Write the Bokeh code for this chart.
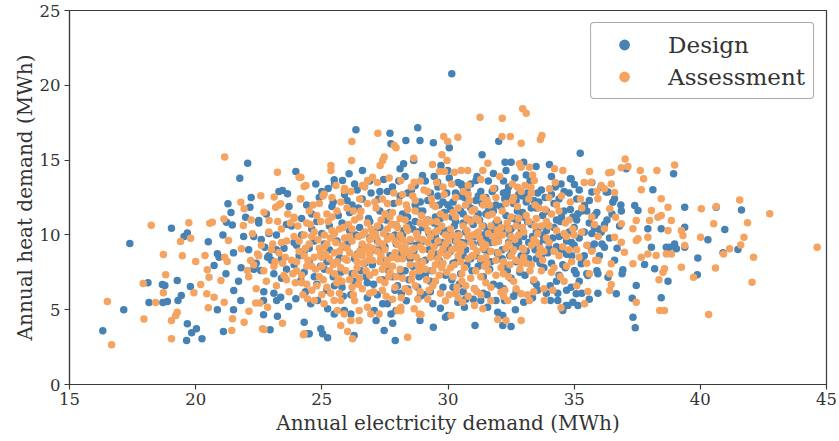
from bokeh.plotting import figure
from bokeh.models import ColumnDataSource, Range1d, FixedTicker, Legend, LegendItem
from bokeh.embed import file_html
from bokeh.resources import INLINE

# ---- data (Annual electricity demand MWh, Annual heat demand MWh) ----
design_outer = [
    (16.32, 3.59), (17.15, 4.99), (17.39, 9.42), (19.04, 10.45), (19.54, 9.89), (19.67, 10.12),
    (18.11, 6.80), (18.15, 5.48), (18.70, 5.48), (18.88, 5.55), (18.68, 6.68), (18.78, 6.62),
    (19.27, 6.95), (19.30, 5.61), (19.43, 5.95), (19.67, 4.06), (19.84, 3.46), (20.03, 3.72),
    (19.64, 2.94), (20.25, 3.05), (19.79, 6.55), (20.50, 9.54), (20.86, 8.74), (20.73, 7.95),
    (20.93, 8.51), (21.28, 12.08), (21.75, 13.79), (22.06, 14.79), (21.08, 10.00), (21.45, 10.67),
    (21.22, 10.85), (20.86, 4.99), (21.50, 4.99), (21.10, 3.54), (21.51, 6.28), (21.79, 5.61),
    (21.98, 11.18), (22.50, 10.96), (22.15, 11.85), (22.69, 4.66), (23.24, 4.57), (22.95, 3.66),
    (22.69, 5.61), (23.97, 14.24), (24.76, 13.41), (23.44, 12.97), (23.64, 12.75), (24.30, 4.16),
    (24.50, 3.39), (23.68, 5.21), (23.37, 5.84), (23.21, 5.61), (22.74, 9.18), (22.85, 8.51),
    (22.35, 7.95), (22.58, 7.62), (23.97, 5.73), (24.17, 6.95), (23.10, 7.40), (23.50, 7.17),
    (30.15, 20.77), (26.35, 17.03), (27.70, 16.80), (27.74, 16.09), (28.80, 17.16), (28.89, 16.31),
    (28.33, 16.31), (29.42, 16.16), (30.05, 15.82), (31.35, 15.35), (32.01, 16.26), (32.26, 14.86),
    (32.50, 14.86), (33.00, 14.86), (33.49, 14.57), (34.02, 14.71), (35.24, 15.46), (34.85, 13.75),
    (35.01, 13.37), (26.61, 14.30), (26.08, 14.08), (25.49, 13.68), (25.82, 13.64), (28.10, 14.42),
    (28.24, 14.75), (28.64, 14.97), (29.72, 14.64), (29.99, 14.30), (28.99, 13.97), (29.59, 13.52),
    (30.52, 13.41), (31.11, 13.64), (32.37, 12.53),
    (38.94, 14.08), (38.12, 13.01), (39.38, 11.85), (40.63, 11.85), (41.63, 11.67), (40.97, 10.36),
    (40.30, 9.67), (41.49, 9.02), (40.90, 8.80), (39.90, 8.45), (39.88, 7.33), (39.38, 10.51),
    (39.38, 9.18), (38.98, 9.40), (38.78, 9.18), (38.65, 9.18), (39.05, 9.07), (38.45, 10.41),
    (37.92, 10.41), (38.06, 9.18), (38.19, 7.73), (38.72, 6.91), (38.45, 5.80), (37.46, 6.62),
    (37.30, 5.77), (37.33, 4.50), (37.42, 3.79), (37.79, 8.02), (36.93, 7.67), (36.67, 6.06),
    (35.94, 6.10), (35.15, 5.28), (34.95, 5.50), (34.68, 5.28), (34.55, 4.95), (37.40, 11.97),
    (37.53, 11.63), (36.87, 11.59), (36.53, 12.19), (36.34, 12.86), (35.41, 11.97), (35.15, 11.41),
    (35.81, 11.30), (35.94, 10.41), (36.07, 10.18), (36.20, 9.18), (35.54, 9.29), (35.28, 8.07),
    (35.01, 7.62), (35.94, 7.40), (36.34, 7.17), (35.54, 7.29), (34.88, 13.75), (34.48, 13.41),
    (35.70, 12.86), (36.27, 12.86), (36.07, 13.19), (36.60, 12.41), (37.06, 14.42),
    (24.43, 3.39), (24.96, 3.72), (25.03, 3.39), (25.23, 3.12), (26.28, 3.28), (27.47, 3.61),
    (27.91, 2.94), (27.81, 4.10), (27.15, 4.28), (28.89, 4.28), (29.42, 3.83), (29.90, 4.50),
    (31.07, 3.94), (32.17, 3.94), (32.50, 3.88), (32.17, 4.61), (32.67, 4.99), (31.97, 4.83),
    (31.90, 5.61), (31.57, 5.17), (32.24, 5.61), (31.30, 5.61), (34.35, 5.61), (34.06, 5.61),
    (34.75, 5.28), (35.08, 6.06), (34.88, 6.50), (35.08, 7.40), (30.65, 5.17), (29.99, 4.61),
    (30.39, 5.50), (27.08, 4.95), (27.74, 4.72), (27.94, 4.95), (27.41, 5.39), (25.89, 4.95),
    (26.15, 4.72), (25.49, 4.72), (24.56, 5.39), (24.83, 5.61), (25.23, 5.06),
]

design_core = [
    (21.2, 7.4), (21.5, 8.8), (21.7, 6.9), (21.9, 9.9), (21.4, 11.5), (21.8, 7.8),
    (22.1, 9.0), (22.3, 7.7), (22.5, 10.8), (22.7, 6.2), (22.9, 8.6), (22.2, 12.5), (22.6, 9.7), (22.8, 11.4),
    (23.0, 8.3), (23.2, 10.0), (23.4, 7.1), (23.5, 9.1), (23.7, 11.9), (23.9, 8.0), (23.1, 6.1),
    (23.3, 12.9), (23.6, 7.7), (23.8, 10.6),
    (24.0, 9.3), (24.2, 11.1), (24.3, 7.5), (24.5, 8.2), (24.6, 10.4), (24.8, 6.7), (24.9, 12.5),
    (24.1, 8.6), (24.4, 12.0), (24.7, 9.6), (24.95, 7.9), (24.35, 6.2),
    (25.0, 10.1), (25.1, 7.7), (25.3, 9.0), (25.4, 11.9), (25.5, 6.6), (25.7, 8.5), (25.8, 10.8),
    (25.9, 12.7), (25.2, 8.2), (25.6, 9.6), (25.45, 7.2), (25.85, 5.9), (25.25, 13.1), (25.65, 11.3),
    (26.0, 9.4), (26.1, 11.5), (26.2, 7.4), (26.4, 8.7), (26.5, 10.5), (26.6, 12.4), (26.8, 6.8),
    (26.9, 9.8), (26.3, 13.4), (26.7, 8.1), (26.15, 6.0), (26.55, 7.6), (26.85, 11.1), (26.35, 10.0), (26.95, 12.8),
    (27.0, 8.0), (27.1, 10.2), (27.3, 11.6), (27.4, 7.0), (27.5, 9.2), (27.6, 12.9), (27.7, 8.6),
    (27.8, 10.7), (27.9, 6.3), (27.2, 9.6), (27.45, 13.7), (27.65, 7.6), (27.85, 12.1), (27.05, 6.7),
    (27.35, 8.4), (27.95, 9.4), (27.55, 11.0),
    (28.0, 9.9), (28.1, 7.3), (28.2, 11.4), (28.3, 8.6), (28.4, 12.8), (28.5, 9.6), (28.6, 7.9),
    (28.7, 10.9), (28.8, 6.5), (28.9, 12.2), (28.05, 13.6), (28.25, 10.3), (28.45, 7.0), (28.65, 8.9),
    (28.85, 11.6), (28.15, 6.1), (28.55, 13.0), (28.75, 9.3), (28.95, 8.2), (28.35, 5.6), (28.6, 10.4),
    (29.0, 10.5), (29.1, 8.3), (29.2, 12.3), (29.3, 6.9), (29.4, 9.7), (29.5, 11.2), (29.6, 13.2),
    (29.7, 8.0), (29.8, 10.2), (29.9, 7.3), (29.05, 6.0), (29.25, 9.0), (29.45, 13.9), (29.65, 12.0),
    (29.85, 11.5), (29.15, 10.9), (29.35, 7.6), (29.55, 8.7), (29.75, 9.5), (29.95, 12.8), (29.4, 5.4), (29.8, 6.5),
    (30.0, 9.3), (30.1, 11.7), (30.2, 8.1), (30.3, 12.8), (30.4, 10.1), (30.5, 7.4), (30.6, 10.8),
    (30.7, 9.0), (30.8, 12.2), (30.9, 8.4), (30.05, 13.8), (30.25, 10.6), (30.45, 6.7), (30.65, 12.5),
    (30.85, 11.0), (30.15, 7.0), (30.35, 9.8), (30.55, 13.3), (30.75, 8.0), (30.95, 9.9), (30.3, 6.1),
    (30.7, 5.7), (30.5, 11.6),
    (31.0, 10.7), (31.1, 8.6), (31.2, 12.6), (31.3, 9.5), (31.4, 7.2), (31.5, 11.4), (31.6, 13.6),
    (31.7, 8.2), (31.8, 10.3), (31.9, 12.0), (31.05, 6.4), (31.25, 11.0), (31.45, 9.0), (31.65, 7.7),
    (31.85, 13.1), (31.15, 13.9), (31.35, 10.0), (31.55, 6.0), (31.75, 11.8), (31.95, 8.8), (31.5, 9.8), (31.2, 7.9),
    (32.0, 9.6), (32.1, 11.9), (32.2, 8.0), (32.3, 10.4), (32.4, 13.2), (32.5, 7.1), (32.6, 11.1),
    (32.7, 9.2), (32.8, 12.7), (32.9, 8.6), (32.05, 6.6), (32.25, 12.4), (32.45, 10.0), (32.65, 13.8),
    (32.85, 7.5), (32.15, 9.0), (32.35, 7.6), (32.55, 8.9), (32.75, 10.8), (32.95, 11.5), (32.6, 5.9), (32.3, 14.3),
    (33.0, 9.9), (33.1, 12.2), (33.2, 8.4), (33.3, 10.7), (33.4, 6.9), (33.5, 11.8), (33.6, 9.4),
    (33.7, 13.0), (33.8, 7.8), (33.9, 10.3), (33.05, 7.3), (33.25, 13.6), (33.45, 9.0), (33.65, 8.1),
    (33.85, 12.5), (33.15, 10.9), (33.55, 6.3), (33.75, 11.3), (33.95, 8.8), (33.35, 5.8),
    (34.0, 10.6), (34.1, 8.1), (34.2, 12.1), (34.3, 9.2), (34.4, 7.3), (34.5, 11.2), (34.6, 10.0),
    (34.7, 8.7), (34.8, 12.8), (34.9, 9.5), (34.05, 6.6), (34.25, 13.2), (34.45, 10.9), (34.65, 7.8),
    (34.85, 11.7), (34.35, 6.1),
    (35.0, 9.3), (35.1, 11.0), (35.3, 8.2), (35.4, 10.2), (35.6, 12.3), (35.7, 9.0), (35.9, 7.6),
    (35.2, 6.9), (35.5, 11.6), (35.8, 10.5),
    (36.1, 9.4), (36.3, 11.0), (36.6, 8.3), (36.8, 10.6), (36.9, 7.4),
]

design_core2 = [
    (22.4, 8.1), (22.9, 10.1), (22.3, 9.9),
    (23.2, 9.0), (23.6, 10.7), (23.9, 9.5), (23.4, 8.4),
    (24.2, 10.0), (24.5, 9.1), (24.8, 10.9), (24.3, 8.9), (24.7, 7.2),
    (25.1, 9.4), (25.3, 10.6), (25.6, 8.2), (25.9, 9.2), (25.45, 12.2), (25.75, 7.5),
    (26.1, 10.3), (26.3, 8.4), (26.6, 9.2), (26.9, 10.9), (26.45, 11.8), (26.75, 7.2), (26.2, 12.0),
    (27.1, 9.0), (27.3, 10.5), (27.5, 8.1), (27.7, 11.5), (27.9, 10.0), (27.25, 12.4), (27.6, 9.9), (27.8, 7.2),
    (28.0, 8.7), (28.2, 10.0), (28.4, 11.2), (28.6, 9.0), (28.8, 10.2), (28.1, 12.6), (28.3, 7.6),
    (28.5, 8.4), (28.7, 12.0), (28.9, 9.6), (28.45, 10.7), (28.85, 7.2),
    (29.0, 9.6), (29.2, 11.0), (29.4, 8.6), (29.6, 10.4), (29.8, 12.2), (29.1, 7.3), (29.3, 12.8),
    (29.5, 9.9), (29.7, 11.1), (29.9, 8.8), (29.25, 10.1), (29.65, 8.3), (29.45, 10.8), (29.85, 9.3),
    (30.0, 10.3), (30.2, 12.2), (30.4, 9.2), (30.6, 11.4), (30.8, 9.6), (30.1, 8.9), (30.3, 10.9),
    (30.5, 12.6), (30.7, 10.2), (30.9, 11.8), (30.15, 11.2), (30.55, 9.5), (30.95, 7.6), (30.35, 8.2),
    (30.75, 13.0), (30.25, 9.9),
    (31.0, 9.4), (31.2, 11.4), (31.4, 10.6), (31.6, 8.9), (31.8, 11.6), (31.1, 12.3), (31.3, 8.3),
    (31.5, 12.5), (31.7, 9.5), (31.9, 10.8), (31.15, 10.1), (31.55, 10.3), (31.95, 9.9), (31.35, 12.1),
    (31.75, 12.9), (31.45, 8.0),
    (32.0, 10.8), (32.2, 12.8), (32.4, 9.5), (32.6, 12.1), (32.8, 9.9), (32.1, 10.2), (32.3, 11.3),
    (32.5, 10.4), (32.7, 8.2), (32.9, 10.2), (32.15, 8.4), (32.55, 9.6), (32.95, 12.6), (32.35, 12.9),
    (32.75, 11.6), (32.45, 8.6),
    (33.0, 11.2), (33.2, 9.5), (33.4, 12.3), (33.6, 10.5), (33.8, 9.7), (33.1, 8.9), (33.3, 11.8),
    (33.5, 10.2), (33.7, 8.6), (33.9, 11.6), (33.15, 12.8), (33.55, 12.8), (33.95, 9.6), (33.35, 9.9),
    (33.75, 10.0),
    (34.0, 9.1), (34.2, 10.5), (34.4, 12.4), (34.6, 11.6), (34.8, 10.2), (34.1, 12.7), (34.3, 11.0),
    (34.5, 9.0), (34.7, 9.6), (34.9, 8.6), (34.15, 9.8), (34.55, 8.0), (34.95, 11.2),
    (35.0, 10.5), (35.2, 9.8), (35.4, 8.6), (35.6, 10.8), (35.8, 9.4), (35.1, 12.4), (35.3, 11.6),
    (35.5, 7.4), (35.7, 10.1), (35.9, 11.5),
    (36.0, 8.6), (36.2, 10.7), (36.4, 9.8), (36.5, 11.4), (36.7, 9.1), (36.85, 12.0),
]

design_core3 = [
    (24.6, 11.4), (25.0, 12.9), (25.5, 13.4), (26.0, 12.3), (26.4, 13.0), (26.9, 13.6), (27.3, 12.9),
    (27.8, 13.2), (28.3, 13.9), (28.7, 13.3), (29.1, 13.6), (29.6, 12.6), (30.0, 12.0), (30.4, 13.5),
    (30.9, 13.4), (31.3, 12.9), (31.8, 14.1), (32.2, 13.6), (32.7, 12.3), (33.1, 14.0), (33.6, 12.2),
    (34.1, 13.9), (34.6, 12.9), (35.2, 13.0), (35.7, 13.5),
    (25.2, 6.3), (25.8, 6.5), (26.3, 6.9), (26.8, 5.8), (27.2, 6.0), (27.6, 5.4), (28.0, 6.6),
    (28.4, 6.4), (28.9, 5.9), (29.3, 6.2), (29.7, 5.1), (30.2, 6.5), (30.6, 6.2), (31.0, 5.7),
    (31.4, 6.1), (31.8, 6.7), (32.2, 6.4), (32.7, 6.2), (33.0, 5.5), (33.5, 6.7), (33.9, 6.1),
    (34.3, 6.9), (34.7, 6.3), (35.3, 6.1), (35.6, 5.7),
    (27.3, 9.0), (28.2, 9.1), (29.5, 9.4), (30.3, 9.6), (31.1, 9.9), (32.0, 8.4), (32.8, 9.5),
    (33.5, 8.4), (34.4, 9.9), (30.6, 8.6), (29.0, 11.6), (31.6, 11.6),
]

assessment_outer = [
    (16.50, 5.55), (16.67, 2.65), (17.95, 4.37), (17.92, 6.75), (18.72, 8.69), (18.81, 7.33),
    (18.72, 6.13), (18.41, 5.48), (18.24, 10.65), (19.04, 3.05), (19.04, 4.28), (19.21, 4.61),
    (19.27, 4.83), (19.40, 9.56), (19.80, 9.78), (19.73, 10.81), (19.47, 8.60), (20.00, 8.22),
    (20.37, 8.62), (19.93, 6.13), (20.20, 6.68), (20.46, 7.67), (20.53, 7.17), (20.44, 6.06),
    (20.50, 5.13), (20.56, 10.78), (20.66, 10.85), (21.15, 15.20), (21.12, 11.07), (21.30, 9.63),
    (21.15, 8.51), (21.25, 8.22), (21.46, 4.39), (21.43, 3.61), (21.00, 6.95), (21.13, 5.50),
    (20.73, 5.84), (21.79, 12.19), (21.92, 11.74), (21.89, 10.63), (21.81, 9.07), (21.92, 4.16),
    (22.11, 4.90), (22.58, 12.61), (23.24, 14.19), (22.65, 3.72), (22.71, 3.68), (23.44, 4.10),
    (24.27, 3.32), (22.05, 7.62), (22.18, 8.29), (22.45, 8.73), (22.38, 5.44), (22.55, 5.44),
    (22.85, 5.17), (23.11, 12.53), (23.37, 12.08), (23.17, 11.85), (22.71, 11.52), (22.91, 10.96),
    (22.25, 10.07), (23.90, 11.18), (24.10, 13.86), (24.37, 13.30), (24.17, 12.41),
    (31.27, 17.87), (32.15, 17.80), (32.96, 18.43), (33.10, 18.14), (33.72, 16.64), (33.66, 16.38),
    (32.47, 16.58), (32.90, 16.13), (32.14, 16.58), (30.39, 16.53), (29.83, 16.58), (29.99, 16.24),
    (27.22, 16.80), (26.19, 16.24), (26.18, 14.97), (25.36, 14.64), (25.36, 14.30), (27.87, 15.98),
    (27.94, 15.82), (27.47, 15.20), (27.41, 14.97), (27.31, 14.64), (28.64, 15.13), (29.76, 15.35),
    (29.96, 14.97), (29.39, 14.71), (29.66, 14.24), (29.86, 14.24), (31.58, 14.79), (31.38, 14.30),
    (30.52, 14.30), (30.78, 14.30), (30.25, 14.19), (32.90, 14.53), (33.23, 14.53), (32.83, 14.75),
    (34.22, 14.42), (34.55, 14.30), (33.42, 13.64), (33.29, 13.19), (32.76, 13.19), (34.02, 13.08),
    (24.30, 13.24), (24.17, 13.86), (25.09, 12.74), (25.56, 13.30), (25.89, 12.97), (26.81, 13.64),
    (27.01, 13.86), (26.61, 13.30), (27.67, 13.81), (28.13, 13.64), (28.66, 13.52),
    (44.63, 9.18), (42.75, 11.41), (41.56, 12.34), (41.87, 10.81), (41.73, 9.85), (41.60, 9.33),
    (41.16, 9.07), (40.92, 8.73), (42.11, 8.51), (40.60, 7.78), (42.05, 6.84), (40.33, 4.68),
    (39.73, 7.17), (40.63, 11.90), (40.04, 11.74), (40.53, 10.74), (40.01, 9.85), (38.98, 14.68),
    (38.28, 14.30), (37.62, 14.30), (37.75, 13.75), (37.66, 13.01), (37.02, 15.08), (36.87, 14.49),
    (37.13, 14.57), (36.47, 14.19), (36.37, 14.15), (35.61, 14.24), (35.67, 13.52), (36.07, 13.30),
    (36.20, 13.08), (35.94, 12.41), (36.47, 13.41), (36.60, 12.84), (36.41, 11.74), (36.64, 11.18),
    (38.45, 12.41), (38.06, 11.63), (38.72, 11.85), (38.85, 10.96), (38.45, 11.30), (38.32, 11.18),
    (37.99, 10.96), (38.72, 10.29), (39.25, 10.29), (39.31, 9.96), (37.92, 9.85), (37.53, 9.74),
    (39.38, 9.29), (38.65, 8.73), (38.25, 8.62), (37.92, 8.73), (37.66, 8.51), (37.33, 8.07),
    (38.85, 8.73), (39.25, 7.84), (38.58, 7.73), (38.52, 7.51), (38.36, 7.00), (38.39, 4.95),
    (38.58, 4.95), (37.46, 5.50), (36.41, 6.28), (35.54, 6.22), (35.41, 5.39), (36.47, 6.68),
    (36.41, 7.40), (36.47, 8.07), (35.94, 8.29), (36.99, 8.84), (36.87, 9.51), (36.60, 9.85),
    (36.20, 10.41), (36.87, 10.74), (37.33, 10.41), (37.46, 10.96), (37.46, 9.63),
    (24.30, 3.39), (25.75, 3.94), (26.02, 3.54), (26.22, 3.05), (26.48, 4.28), (26.15, 4.28),
    (28.40, 3.16), (28.93, 4.68), (28.00, 4.95), (28.13, 5.17), (26.94, 4.72), (27.27, 4.72),
    (30.12, 4.61), (31.97, 4.35), (32.90, 4.28), (32.30, 4.28), (34.48, 5.13), (33.82, 5.61),
    (33.23, 5.61), (32.37, 5.61), (31.38, 5.06), (31.05, 5.28), (30.58, 5.50), (31.05, 6.40),
    (32.10, 6.17), (32.90, 6.06), (28.66, 5.06), (28.86, 4.72), (28.13, 4.95), (26.81, 5.17),
    (26.48, 4.95), (25.89, 4.72), (25.62, 4.95), (25.09, 5.39), (24.43, 5.73), (24.70, 5.61),
    (25.49, 5.61), (25.75, 5.61),
]

assessment_core = [
    (22.1, 7.2), (22.3, 8.0), (22.4, 6.4), (22.6, 9.3), (22.7, 7.6), (22.9, 10.2), (22.2, 11.0),
    (22.8, 6.9), (22.5, 8.6), (23.0, 9.0),
    (23.1, 7.9), (23.2, 6.6), (23.3, 8.8), (23.4, 10.4), (23.5, 7.3), (23.6, 9.6), (23.7, 6.2),
    (23.8, 8.3), (23.9, 11.1), (23.3, 12.0), (23.6, 7.0), (23.9, 9.9), (23.45, 8.1), (23.75, 10.8),
    (24.0, 7.6), (24.1, 8.9), (24.2, 6.8), (24.3, 10.0), (24.4, 7.9), (24.5, 9.4), (24.6, 6.3),
    (24.7, 8.5), (24.8, 11.3), (24.9, 7.2), (24.15, 12.4), (24.35, 9.1), (24.55, 10.7), (24.75, 7.7),
    (24.95, 8.8), (24.25, 6.0), (24.65, 12.0), (24.85, 9.7), (24.05, 10.6), (24.45, 8.3),
    (25.0, 7.9), (25.1, 9.2), (25.2, 6.5), (25.3, 8.4), (25.4, 10.3), (25.5, 7.4), (25.6, 11.6),
    (25.7, 8.9), (25.8, 6.9), (25.9, 9.8), (25.05, 12.6), (25.25, 10.9), (25.45, 8.0), (25.65, 7.1),
    (25.85, 10.5), (25.15, 8.7), (25.35, 6.1), (25.55, 9.5), (25.75, 12.2), (25.95, 7.6), (25.2, 11.4),
    (25.6, 8.2), (25.9, 13.1),
    (26.0, 8.3), (26.1, 7.0), (26.2, 9.6), (26.3, 11.0), (26.4, 7.8), (26.5, 8.9), (26.6, 6.4),
    (26.7, 10.2), (26.8, 12.1), (26.9, 7.3), (26.05, 10.7), (26.25, 6.0), (26.45, 9.9), (26.65, 8.1),
    (26.85, 9.2), (26.15, 12.9), (26.35, 8.6), (26.55, 11.6), (26.75, 7.6), (26.95, 10.4), (26.3, 5.6),
    (26.7, 13.2), (26.5, 7.1), (26.9, 8.7),
    (27.0, 9.1), (27.1, 7.5), (27.2, 10.6), (27.3, 8.2), (27.4, 12.4), (27.5, 6.8), (27.6, 9.7),
    (27.7, 11.2), (27.8, 7.9), (27.9, 8.8), (27.05, 6.2), (27.25, 9.5), (27.45, 10.1), (27.65, 7.2),
    (27.85, 12.8), (27.15, 11.8), (27.35, 8.6), (27.55, 5.9), (27.75, 9.9), (27.95, 10.7), (27.2, 13.5),
    (27.6, 8.3), (27.9, 6.5), (27.4, 7.7), (27.8, 11.5),
    (28.0, 8.4), (28.1, 10.0), (28.2, 7.1), (28.3, 9.3), (28.4, 11.7), (28.5, 8.0), (28.6, 12.6),
    (28.7, 6.6), (28.8, 9.8), (28.9, 10.8), (28.05, 12.2), (28.25, 8.8), (28.45, 6.2), (28.65, 9.1),
    (28.85, 7.6), (28.15, 5.8), (28.35, 10.5), (28.55, 13.2), (28.75, 8.5), (28.95, 11.3), (28.2, 9.7),
    (28.6, 7.4), (28.9, 13.6), (28.4, 8.9), (28.8, 5.7), (28.1, 11.1),
    (29.0, 9.0), (29.1, 7.7), (29.2, 10.3), (29.3, 8.5), (29.4, 12.0), (29.5, 6.9), (29.6, 9.6),
    (29.7, 11.4), (29.8, 8.1), (29.9, 10.0), (29.05, 13.0), (29.25, 6.3), (29.45, 9.2), (29.65, 7.3),
    (29.85, 12.7), (29.15, 11.0), (29.35, 8.8), (29.55, 13.5), (29.75, 10.6), (29.95, 7.5), (29.2, 5.7),
    (29.6, 8.4), (29.9, 9.4), (29.3, 10.9), (29.7, 6.1), (29.5, 11.9),
    (30.0, 8.7), (30.1, 10.4), (30.2, 7.2), (30.3, 9.1), (30.4, 11.8), (30.5, 8.2), (30.6, 12.9),
    (30.7, 6.6), (30.8, 9.9), (30.9, 10.9), (30.05, 6.0), (30.25, 8.0), (30.45, 10.0), (30.65, 7.8),
    (30.85, 12.3), (30.15, 13.4), (30.35, 9.6), (30.55, 6.9), (30.75, 11.1), (30.95, 8.6), (30.2, 11.5),
    (30.6, 9.3), (30.9, 7.1), (30.4, 5.8), (30.8, 13.3),
    (31.0, 9.2), (31.1, 7.6), (31.2, 11.0), (31.3, 8.4), (31.4, 12.5), (31.5, 6.8), (31.6, 10.1),
    (31.7, 8.9), (31.8, 13.1), (31.9, 7.3), (31.05, 11.7), (31.25, 9.8), (31.45, 7.9), (31.65, 12.0),
    (31.85, 9.5), (31.15, 6.2), (31.35, 10.6), (31.55, 8.1), (31.75, 11.4), (31.95, 10.3), (31.3, 13.7),
    (31.7, 6.5), (31.6, 7.6),
    (32.0, 8.8), (32.1, 10.5), (32.2, 7.4), (32.3, 12.1), (32.4, 9.4), (32.5, 11.2), (32.6, 6.9),
    (32.7, 8.3), (32.8, 10.0), (32.9, 12.9), (32.05, 13.9), (32.25, 6.3), (32.45, 8.0), (32.65, 9.7),
    (32.85, 7.7), (32.15, 11.6), (32.35, 10.8), (32.55, 13.4), (32.75, 11.9), (32.95, 9.1), (32.4, 7.2),
    (33.0, 10.2), (33.1, 8.1), (33.2, 12.4), (33.3, 9.3), (33.4, 7.0), (33.5, 11.1), (33.6, 8.7),
    (33.7, 10.6), (33.8, 6.4), (33.9, 9.8), (33.05, 13.3), (33.25, 7.6), (33.45, 12.0), (33.65, 9.1),
    (33.85, 11.7), (33.15, 6.0), (33.55, 10.1), (33.75, 8.3), (33.35, 14.0),
    (34.0, 9.5), (34.1, 11.4), (34.2, 7.8), (34.3, 10.3), (34.4, 8.6), (34.5, 12.6), (34.6, 6.9),
    (34.7, 9.9), (34.8, 11.0), (34.9, 8.2), (34.25, 13.5), (34.45, 7.2), (34.65, 10.8), (34.85, 12.2),
    (34.15, 6.3), (34.55, 9.2),
    (35.0, 10.0), (35.2, 8.5), (35.3, 11.8), (35.5, 9.3), (35.6, 7.4), (35.8, 10.7), (35.9, 12.9),
    (35.1, 6.6), (35.4, 13.5), (35.7, 8.9), (35.95, 9.9),
]

assessment_core2 = [
    (23.05, 9.4), (23.25, 10.9), (23.55, 8.5), (23.85, 7.4), (23.15, 8.2), (23.65, 11.4), (23.95, 6.8),
    (24.1, 9.6), (24.3, 8.6), (24.5, 11.6), (24.7, 10.2), (24.9, 9.1), (24.2, 7.3), (24.6, 7.9),
    (24.8, 6.6), (24.4, 10.8), (24.95, 10.9),
    (25.1, 10.0), (25.3, 7.6), (25.5, 8.8), (25.7, 10.4), (25.9, 8.4), (25.2, 9.4), (25.4, 11.2),
    (25.6, 6.8), (25.8, 9.3), (25.35, 9.8), (25.75, 7.8), (25.05, 7.0),
    (26.0, 9.1), (26.2, 10.4), (26.4, 8.2), (26.6, 9.4), (26.8, 10.8), (26.1, 8.8), (26.3, 7.4),
    (26.5, 11.2), (26.7, 9.0), (26.9, 9.7), (26.45, 6.7), (26.85, 8.3), (26.25, 11.6), (26.6, 10.0),
    (27.0, 8.3), (27.2, 8.9), (27.4, 9.4), (27.6, 10.4), (27.8, 8.5), (27.1, 10.1), (27.3, 7.0),
    (27.5, 11.4), (27.7, 7.5), (27.9, 9.6), (27.15, 9.9), (27.55, 8.0), (27.95, 7.2), (27.35, 11.0), (27.75, 10.7),
    (28.0, 9.4), (28.2, 8.4), (28.4, 10.3), (28.6, 9.0), (28.8, 8.0), (28.1, 7.7), (28.3, 11.0),
    (28.5, 9.7), (28.7, 11.6), (28.9, 9.2), (28.15, 9.1), (28.55, 7.0), (28.95, 7.9), (28.35, 12.0), (28.75, 10.1),
    (29.0, 8.2), (29.2, 9.5), (29.4, 7.6), (29.6, 10.3), (29.8, 9.1), (29.1, 10.7), (29.3, 9.9),
    (29.5, 8.0), (29.7, 8.8), (29.9, 11.2), (29.15, 7.0), (29.55, 10.9), (29.95, 8.6), (29.35, 12.4), (29.75, 7.8),
    (30.0, 9.6), (30.2, 10.0), (30.4, 8.6), (30.6, 10.6), (30.8, 8.4), (30.1, 7.8), (30.3, 11.2),
    (30.5, 9.4), (30.7, 12.0), (30.9, 9.5), (30.15, 9.0), (30.55, 7.4), (30.95, 11.6), (30.35, 6.5), (30.75, 10.3),
    (31.0, 8.6), (31.2, 10.2), (31.4, 9.1), (31.6, 11.3), (31.8, 9.9), (31.1, 11.1), (31.3, 7.2),
    (31.5, 8.5), (31.7, 10.6), (31.9, 8.3), (31.15, 8.9), (31.55, 12.3), (31.95, 11.0), (31.35, 9.5),
    (32.0, 9.6), (32.2, 8.2), (32.4, 10.4), (32.6, 9.0), (32.8, 11.1), (32.1, 7.8), (32.3, 9.1),
    (32.5, 8.6), (32.7, 10.6), (32.9, 8.1), (32.15, 10.0), (32.55, 12.3), (32.95, 10.5),
    (33.0, 9.0), (33.2, 10.9), (33.4, 9.7), (33.6, 11.8), (33.8, 8.9), (33.1, 11.3), (33.3, 8.0),
    (33.5, 9.5), (33.7, 7.6), (33.9, 10.9), (33.45, 10.6),
    (34.0, 10.6), (34.2, 8.9), (34.4, 11.6), (34.6, 10.1), (34.8, 9.0), (34.1, 7.5), (34.3, 12.0),
    (34.7, 7.9), (34.95, 10.4),
    (35.1, 9.0), (35.3, 10.2), (35.5, 8.1), (35.7, 11.2), (35.25, 12.4), (35.85, 8.3),
]

assessment_core3 = [
    (23.4, 9.5), (24.0, 8.2), (24.6, 9.9), (25.0, 8.5), (25.5, 10.1), (26.1, 9.9), (26.6, 8.6),
    (27.0, 10.0), (27.5, 9.0), (28.0, 10.5), (28.5, 8.6), (29.0, 9.7), (29.5, 10.2), (30.0, 9.9),
    (30.5, 8.9), (31.0, 10.0), (31.5, 9.3), (32.0, 10.1), (32.5, 9.9), (33.0, 8.5),
    (24.4, 6.7), (25.0, 6.0), (25.7, 6.1), (26.2, 6.5), (26.9, 6.1), (27.4, 6.3), (27.8, 5.7),
    (28.3, 6.4), (28.9, 6.2), (29.4, 6.6), (29.9, 5.6), (30.3, 6.1), (30.8, 5.9), (31.3, 6.0),
    (31.7, 5.6), (32.2, 5.9), (32.7, 6.4), (33.4, 6.2),
    (24.9, 12.1), (25.4, 12.5), (26.0, 11.8), (26.5, 12.4), (27.1, 12.2), (27.6, 12.1), (28.2, 12.7),
    (28.7, 12.3), (29.2, 12.9), (29.8, 13.2), (30.3, 12.5), (30.8, 12.7), (31.4, 12.0), (31.9, 12.5),
    (32.6, 12.5), (33.3, 12.8), (34.0, 12.5),
]

series_names = ["Design", "Assessment"]
series_colors = ["#4682b4", "#f4a460"]
x_ticks = [15, 20, 25, 30, 35, 40, 45]
y_ticks = [0, 5, 10, 15, 20, 25]

FONT = "DejaVu Serif"

design = design_outer + design_core + design_core2 + design_core3
assessment = assessment_outer + assessment_core + assessment_core2 + assessment_core3

src_d = ColumnDataSource(dict(x=[p[0] for p in design], y=[p[1] for p in design]))
src_a = ColumnDataSource(dict(x=[p[0] for p in assessment], y=[p[1] for p in assessment]))

p = figure(width=839, height=441, output_backend="svg", toolbar_location=None,
           x_range=Range1d(15, 45), y_range=Range1d(0, 25))
p.min_border_left = 69
p.min_border_right = 13
p.min_border_top = 10
p.min_border_bottom = 57
p.background_fill_color = "white"
p.border_fill_color = "white"
p.outline_line_color = "#3a3a3a"
p.outline_line_width = 1.2
p.xgrid.visible = False
p.ygrid.visible = False

r_d = p.scatter("x", "y", source=src_d, size=7.5, color=series_colors[0], line_color=None)
r_a = p.scatter("x", "y", source=src_a, size=7.5, color=series_colors[1], line_color=None)

for ax in (p.xaxis[0], p.yaxis[0]):
    ax.axis_line_color = "#3a3a3a"
    ax.axis_line_width = 1.2
    ax.major_tick_line_color = "#3a3a3a"
    ax.major_tick_line_width = 1.2
    ax.major_tick_out = 5
    ax.major_tick_in = 0
    ax.minor_tick_line_color = None
    ax.major_label_text_font = FONT
    ax.major_label_text_font_size = "16.5px"
    ax.major_label_text_color = "#333333"
    ax.axis_label_text_font = FONT
    ax.axis_label_text_font_size = "20px"
    ax.axis_label_text_font_style = "normal"
    ax.axis_label_text_color = "#333333"

p.xaxis.axis_label = "Annual electricity demand (MWh)"
p.yaxis.axis_label = "Annual heat demand (MWh)"
p.xaxis.ticker = FixedTicker(ticks=x_ticks)
p.yaxis.ticker = FixedTicker(ticks=y_ticks)
p.xaxis.major_label_standoff = 3
p.yaxis.major_label_standoff = 4
p.xaxis.axis_label_standoff = 3
p.yaxis.axis_label_standoff = 0

legend = Legend(items=[LegendItem(label=series_names[0], renderers=[r_d]),
                       LegendItem(label=series_names[1], renderers=[r_a])],
                location="top_right")
legend.margin = 12
legend.padding = 8
legend.spacing = 5
legend.glyph_width = 50
legend.glyph_height = 27
legend.label_height = 27
legend.label_standoff = 19
legend.label_text_font = FONT
legend.label_text_font_size = "23px"
legend.label_text_color = "#333333"
legend.border_line_color = "#555555"
legend.border_line_width = 1
legend.border_radius = 4
legend.background_fill_alpha = 0.8
p.add_layout(legend)

open("out.html", "w").write(file_html(p, INLINE))
